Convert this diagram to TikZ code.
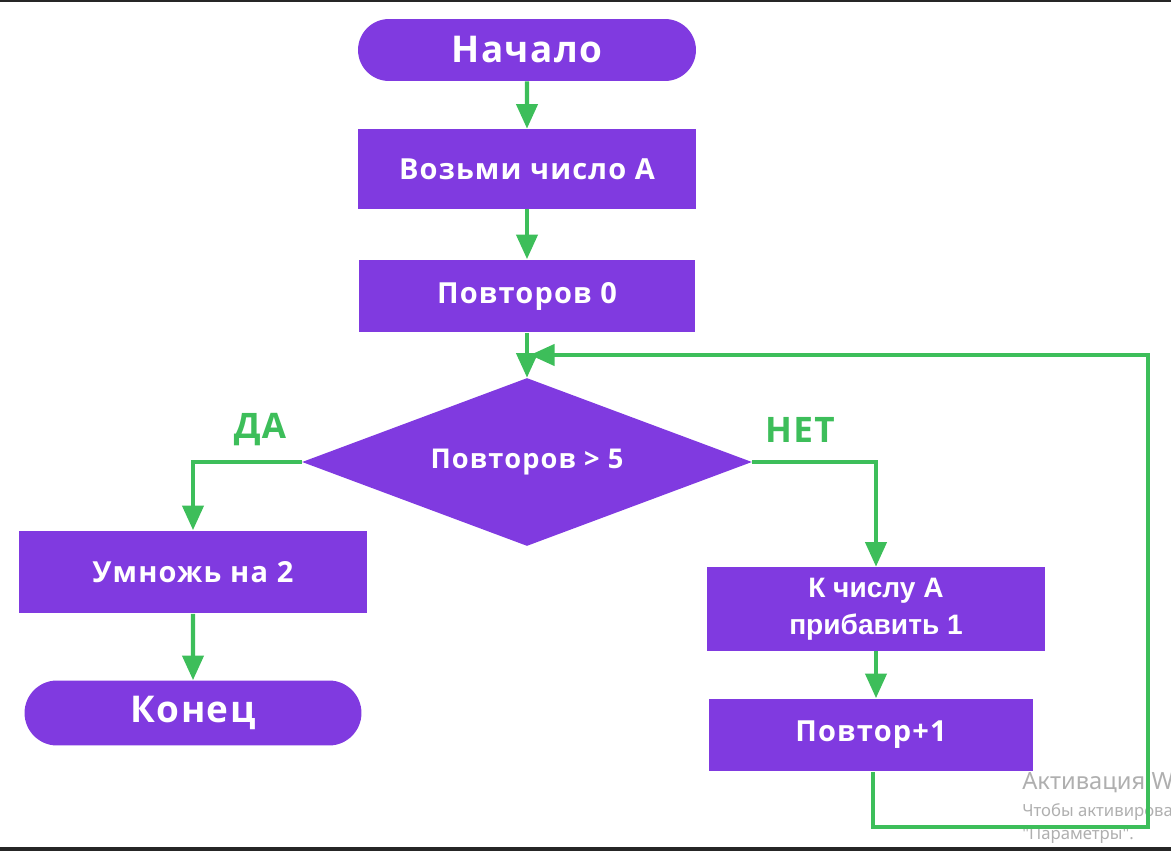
\documentclass[tikz,border=0pt]{standalone}
\usepackage{fontspec}
\setmainfont{Open Sans}[LetterSpace=4]
\newfontfamily\arialfont{Liberation Sans}
\newfontfamily\winfont{Noto Sans}
\usetikzlibrary{arrows.meta,shapes.geometric,shapes.misc}
\definecolor{blockpurple}{RGB}{128,58,224}
\definecolor{flowgreen}{RGB}{61,190,90}
\definecolor{wmgray}{RGB}{175,175,175}

\begin{document}
\begin{tikzpicture}[x=0.02cm,y=-0.02cm,
  block/.style={rectangle,fill=blockpurple,text=white,inner sep=0pt,
    font=\bfseries\fontsize{16.5}{19}\selectfont},
  term/.style={rounded rectangle,fill=blockpurple,text=white,inner sep=0pt,
    font=\bfseries\fontsize{21}{24}\selectfont},
  decide/.style={diamond,fill=blockpurple,text=white,inner sep=0pt,
    aspect=2.68,font=\bfseries\fontsize{15.5}{18}\selectfont},
  answer/.style={text=flowgreen,font=\bfseries\fontsize{20}{24}\selectfont},
  flow/.style={color=flowgreen,line width=2.3pt,
    -{Triangle[length=14pt,width=12pt]}},
  wm/.style={text=wmgray,anchor=west,inner sep=0pt}]
\useasboundingbox (0,0) rectangle (1171,851);
\fill[black!85] (0,0) rectangle (1171,2);
\fill[black!85] (0,847) rectangle (1171,851);

% blocks
\node[term,minimum width=6.76cm,minimum height=1.24cm] (start) at (527,50) {Начало};
\node[block,minimum width=6.78cm,minimum height=1.6cm] (takeA) at (527,169) {Возьми число А};
\node[block,minimum width=6.74cm,minimum height=1.46cm] (zero) at (527,296) {Повторов 0};
\node[decide,minimum width=9cm,minimum height=3.36cm] (check) at (527,462) {Повторов > 5};
\node[block,minimum width=6.98cm,minimum height=1.66cm] (twice) at (193,572) {Умножь на 2};
\node[term,minimum width=6.74cm,minimum height=1.3cm] (stop) at (193,713) {Конец};
\node[block,minimum width=6.76cm,minimum height=1.68cm,align=center,
  font=\arialfont\bfseries\fontsize{16}{21}\selectfont] (addone) at (876,609) {К числу А\\прибавить 1};
\node[block,minimum width=6.5cm,minimum height=1.46cm] (count) at (871,735) {Повтор+1};

\node[answer] (yes) at (260,430) {ДА};
\node[answer] (no) at (800,430) {НЕТ};

% watermark
\begin{scope}
\clip (0,0) rectangle (1171,851);
\node[wm,font=\winfont\fontsize{13.5}{15}\selectfont] (wmA) at (1022,782) {Активация Windows};
\node[wm,font=\winfont\fontsize{9.5}{11}\selectfont] (wmB) at (1022,812) {Чтобы активировать Windows, перейдите в раздел};
\node[wm,font=\winfont\fontsize{9.5}{11}\selectfont] (wmC) at (1022,836) {"Параметры".};
\end{scope}

% connectors
\coordinate (merge) at (530,355);
\path[flow]
  (start) edge (takeA)
  (takeA) edge (zero)
  (zero) edge (check)
  (twice) edge (stop);
\draw[flow] (addone.south) -- (addone.south |- count.north);
\draw[flow] (check.west) -| (twice.north);
\draw[flow] (check.east) -| (addone.north);
\draw[flow] (count.south) ++(2,0) -- ++(0,55) -| (1148,355) -- (merge);
\end{tikzpicture}
\end{document}
